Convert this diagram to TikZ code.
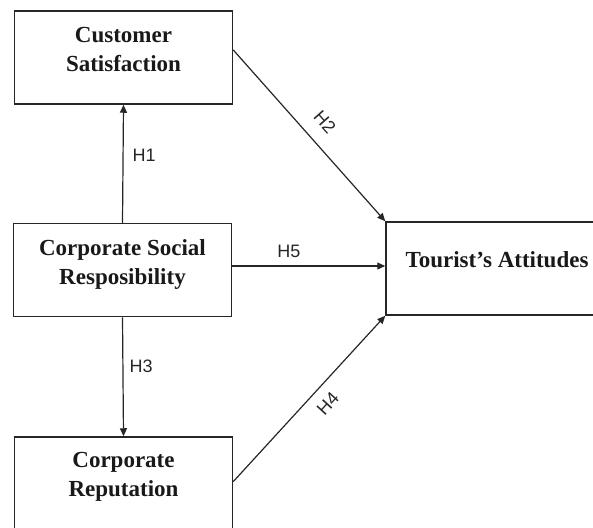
\documentclass[tikz,border=0pt]{standalone}
\usepackage{fontspec}
\setmainfont{Liberation Serif}
\newfontfamily\hfont{Liberation Sans}
\usetikzlibrary{arrows.meta,calc}

\tikzset{
  construct/.style={draw=black!85, line width=1.5pt, minimum width=218pt,
    minimum height=93pt, inner sep=0pt, fill=none},
  constructtext/.style={font=\bfseries\fontsize{23}{29}\selectfont, align=center,
    inner sep=0pt, text=black!90},
  path arrow/.style={draw=black!85, line width=1.2pt,
    -{Triangle[length=8pt,width=7pt]}},
  hyp/.style={font=\hfont\fontsize{18}{20}\selectfont, inner sep=0pt, text=black!85}
}

\begin{document}
\begin{tikzpicture}[x=1pt,y=-1pt]
  \useasboundingbox (0,0) rectangle (593,527);

  % construct boxes
  \node[construct] (cs)  at (123.5,57.5)  {};
  \node[construct] (csr) at (122.5,270)   {};
  \node[construct] (cr)  at (123.5,483.5) {};
  \node[construct, minimum width=222pt] (ta) at (497,268.5) {};

  % box labels
  \node[constructtext] (cstext)  at ([yshift=8.5pt]cs.center)  {Customer\\Satisfaction};
  \node[constructtext] (csrtext) at ([yshift=5.5pt]csr.center) {Corporate Social\\Resposibility};
  \node[constructtext] (crtext)  at ([yshift=6.5pt]cr.center)  {Corporate\\Reputation};
  \node[constructtext] (tatext)  at ([yshift=8.5pt]ta.center)  {Tourist’s Attitudes};

  % hypothesised paths
  \draw[path arrow] (csr.north) -- (cs.south)
    node[hyp, pos=0.57, right=9pt] (h1) {H1};
  \draw[path arrow] (csr.south) -- (cr.south |- cr.north)
    node[hyp, pos=0.41, right=6pt] (h3) {H3};

  \coordinate (h2s) at ($(cs.north east)!0.42!(cs.south east)$);
  \draw[path arrow] (h2s) -- (ta.north west)
    node[hyp, pos=0.5, sloped, above=14pt] (h2) {H2};

  \coordinate (h4s) at ($(cr.north east)!0.48!(cr.south east)$);
  \draw[path arrow] (h4s) -- (ta.south west)
    node[hyp, pos=0.54, sloped, below=10pt] (h4) {H4};

  \coordinate (h5s) at ([yshift=4pt]csr.east);
  \draw[path arrow] (h5s) -- (h5s -| ta.west)
    node[hyp, pos=0.37, above=7.5pt] (h5) {H5};
\end{tikzpicture}
\end{document}
